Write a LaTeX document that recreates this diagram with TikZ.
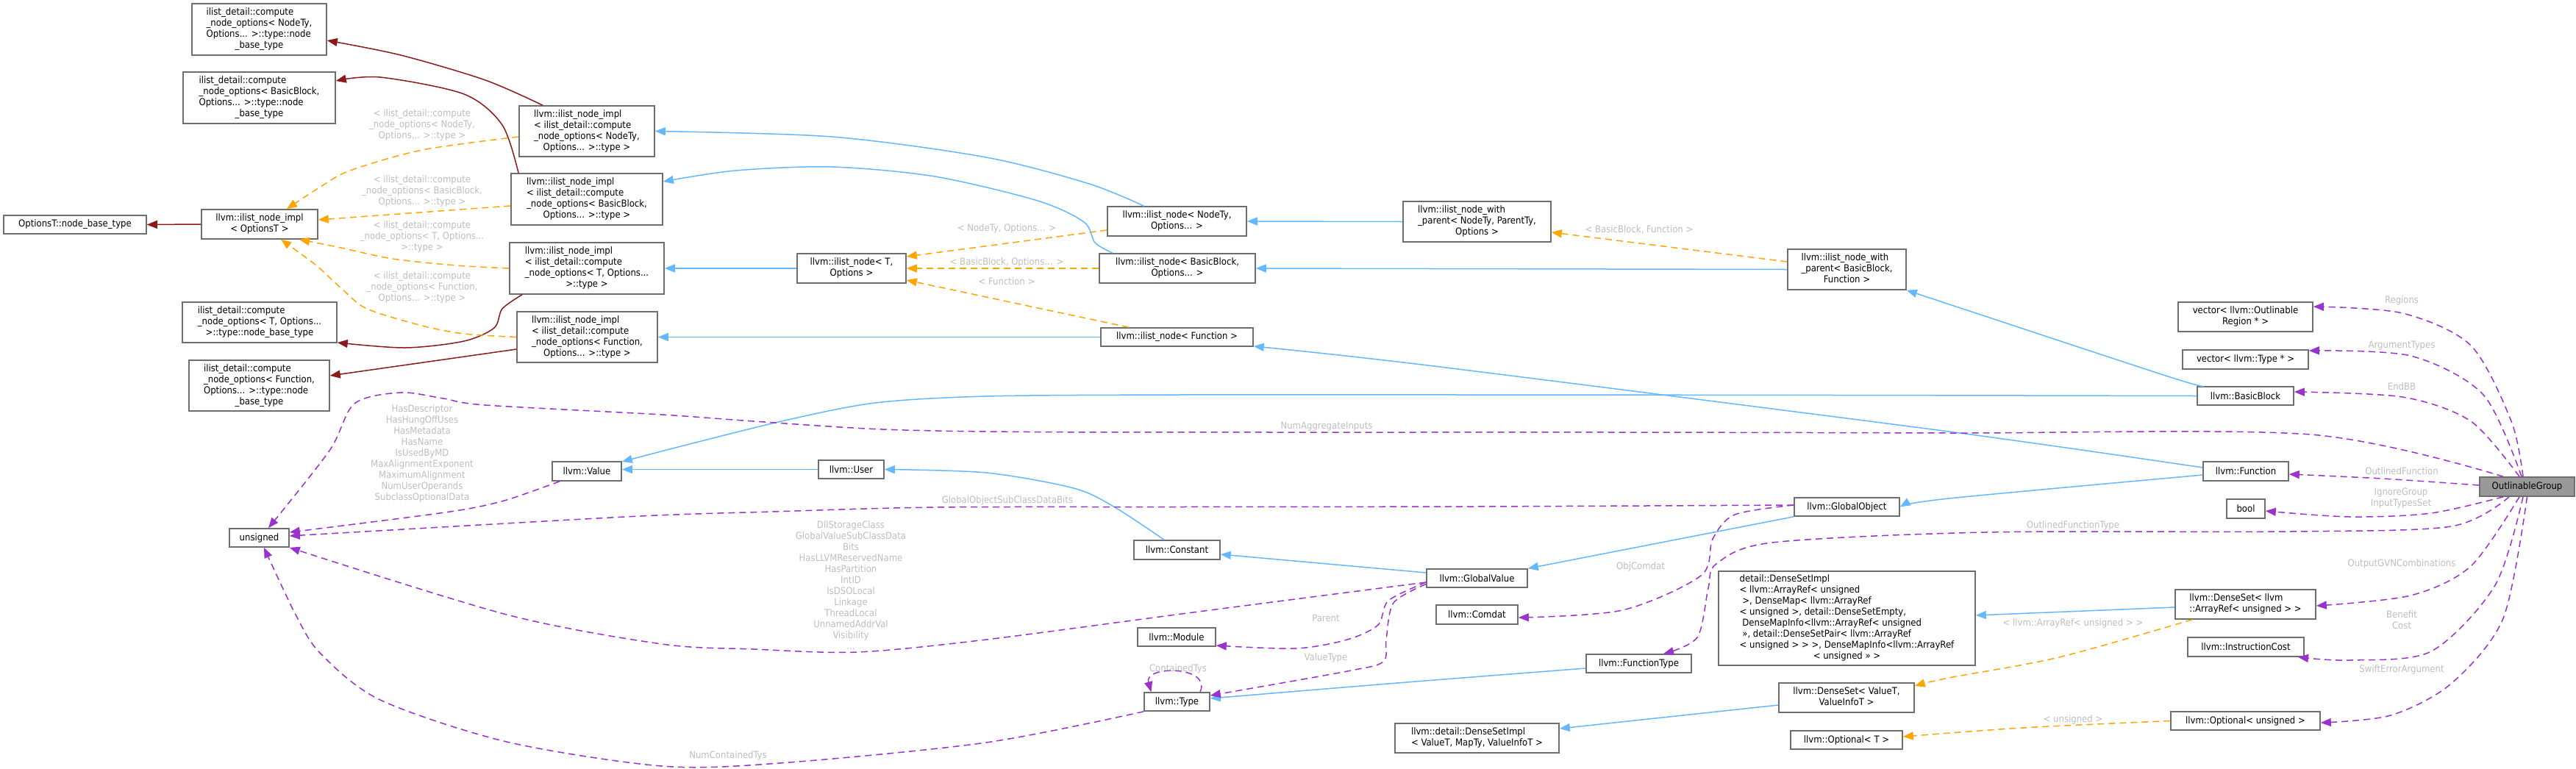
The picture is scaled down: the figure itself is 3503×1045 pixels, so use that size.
\documentclass[tikz,border=0pt]{standalone}
\usepackage{fontspec}
\IfFontExistsTF{DejaVu Sans Condensed}{\setmainfont{DejaVu Sans Condensed}}{\setmainfont{DejaVu Sans}[FakeStretch=0.88]}
\usetikzlibrary{arrows.meta}
\definecolor{dxblue}{HTML}{63B8FF}
\definecolor{dxred}{HTML}{8B1A1A}
\definecolor{dxorange}{HTML}{FFA500}
\definecolor{dxpurple}{HTML}{9A32CD}
\definecolor{dxlabel}{HTML}{BEBEBE}
\definecolor{dxborder}{HTML}{6E6E6E}
\definecolor{dxfill}{HTML}{999999}
\newcommand\dxl[2]{\begin{tabular}{@{}l@{}}#1\\\multicolumn{1}{@{}c@{}}{#2}\end{tabular}}
\tikzset{
  box/.style={draw=dxborder, fill=white, line width=1.6pt, inner sep=0pt, font=\fontsize{13}{15}\selectfont, text=black},
  lab/.style={font=\fontsize{13}{15}\selectfont, text=dxlabel, align=center, inner sep=0pt},
  tip/.style={-{Triangle[length=14pt,width=11pt]}},
  inh/.style={draw=dxblue, line width=1.5pt, tip},
  priv/.style={draw=dxred, line width=1.5pt, tip},
  tmpl/.style={draw=dxorange, line width=1.5pt, dash pattern=on 9pt off 6pt, tip},
  use/.style={draw=dxpurple, line width=1.5pt, dash pattern=on 9pt off 6pt, tip}
}
\begin{document}
\begin{tikzpicture}[x=1pt,y=-1pt]
\useasboundingbox[fill=white] (0,0) rectangle (3503,1045);
% ---------- nodes ----------
\node[box, minimum width=183pt, minimum height=70pt] (n1) at (352.5,40) {\dxl{ilist\_detail::compute\\\_node\_options< NodeTy,\\Options... >::type::node}{\_base\_type}};
\node[box, minimum width=207pt, minimum height=70pt] (n2) at (352.5,133) {\dxl{ilist\_detail::compute\\\_node\_options< BasicBlock,\\Options... >::type::node}{\_base\_type}};
\node[box, minimum width=194pt, minimum height=25pt] (optT) at (102,305.5) {OptionsT::node\_base\_type};
\node[box, minimum width=158pt, minimum height=40pt] (implOpt) at (353,305) {\dxl{llvm::ilist\_node\_impl}{< OptionsT >}};
\node[box, minimum width=210pt, minimum height=55pt] (n3) at (353,438.5) {\dxl{ilist\_detail::compute\\\_node\_options< T, Options...}{>::type::node\_base\_type}};
\node[box, minimum width=191pt, minimum height=69pt] (n4) at (352.5,524.5) {\dxl{ilist\_detail::compute\\\_node\_options< Function,\\Options... >::type::node}{\_base\_type}};
\node[box, minimum width=184pt, minimum height=69pt] (implNodeTy) at (798,178.5) {\dxl{llvm::ilist\_node\_impl\\< ilist\_detail::compute\\\_node\_options< NodeTy,}{Options... >::type >}};
\node[box, minimum width=206pt, minimum height=70pt] (implBB) at (798,271) {\dxl{llvm::ilist\_node\_impl\\< ilist\_detail::compute\\\_node\_options< BasicBlock,}{Options... >::type >}};
\node[box, minimum width=210pt, minimum height=70pt] (implT) at (798,365) {\dxl{llvm::ilist\_node\_impl\\< ilist\_detail::compute\\\_node\_options< T, Options...}{>::type >}};
\node[box, minimum width=191pt, minimum height=69pt] (implFn) at (798.5,458.5) {\dxl{llvm::ilist\_node\_impl\\< ilist\_detail::compute\\\_node\_options< Function,}{Options... >::type >}};
\node[box, minimum width=189pt, minimum height=40pt] (nodeNT) at (1600.5,301) {\dxl{llvm::ilist\_node< NodeTy,}{Options... >}};
\node[box, minimum width=148pt, minimum height=40pt] (nodeT) at (1158,365) {\dxl{llvm::ilist\_node< T,}{Options >}};
\node[box, minimum width=212pt, minimum height=40pt] (nodeBB) at (1601,365) {\dxl{llvm::ilist\_node< BasicBlock,}{Options... >}};
\node[box, minimum width=207pt, minimum height=25pt] (nodeFn) at (1600.5,458.5) {llvm::ilist\_node< Function >};
\node[box, minimum width=201pt, minimum height=55pt] (wpNT) at (2008.5,301.5) {\dxl{llvm::ilist\_node\_with\\\_parent< NodeTy, ParentTy,}{Options >}};
\node[box, minimum width=161pt, minimum height=55pt] (wpBB) at (2511.5,366.5) {\dxl{llvm::ilist\_node\_with\\\_parent< BasicBlock,}{Function >}};
\node[box, minimum width=183pt, minimum height=40pt] (vecReg) at (3053.5,431) {\dxl{vector< llvm::Outlinable}{Region * >}};
\node[box, minimum width=171pt, minimum height=26pt] (vecType) at (3053.5,489) {vector< llvm::Type * >};
\node[box, minimum width=131pt, minimum height=25pt] (BB) at (3053.5,538.5) {llvm::BasicBlock};
\node[box, minimum width=116pt, minimum height=26pt] (Fn) at (3054,641) {llvm::Function};
\node[box, minimum width=52pt, minimum height=26pt] (bool) at (3054,692) {bool};
\node[box, minimum width=191pt, minimum height=40pt] (dsAR) at (3053.5,822) {\dxl{llvm::DenseSet< llvm}{::ArrayRef< unsigned > >}};
\node[box, minimum width=158pt, minimum height=26pt] (ic) at (3054,880) {llvm::InstructionCost};
\node[box, minimum width=203pt, minimum height=25pt] (optU) at (3053.5,980.5) {llvm::Optional< unsigned >};
\node[box, fill=dxfill, draw=dxborder, minimum width=129pt, minimum height=26pt] (OG) at (3436.5,662) {OutlinableGroup};
\node[box, minimum width=143pt, minimum height=25pt] (GO) at (2511.5,689.5) {llvm::GlobalObject};
\node[box, minimum width=137pt, minimum height=25pt] (GV) at (2008.5,786.5) {llvm::GlobalValue};
\node[box, minimum width=111pt, minimum height=26pt] (Comdat) at (2008.5,836) {llvm::Comdat};
\node[box, minimum width=143pt, minimum height=25pt] (FT) at (2228.5,902.5) {llvm::FunctionType};
\node[box, minimum width=349pt, minimum height=128pt] (dsImpl) at (2511.5,841) {\dxl{detail::DenseSetImpl\\< llvm::ArrayRef< unsigned\\\ >, DenseMap< llvm::ArrayRef\\< unsigned >, detail::DenseSetEmpty,\\\ DenseMapInfo<llvm::ArrayRef< unsigned\\\ >>, detail::DenseSetPair< llvm::ArrayRef\\< unsigned > > >, DenseMapInfo<llvm::ArrayRef}{< unsigned >> >}};
\node[box, minimum width=184pt, minimum height=40pt] (dsVT) at (2511,949) {\dxl{llvm::DenseSet< ValueT,}{ValueInfoT >}};
\node[box, minimum width=223pt, minimum height=40pt] (dImplVT) at (2008.5,1004) {\dxl{llvm::detail::DenseSetImpl}{< ValueT, MapTy, ValueInfoT >}};
\node[box, minimum width=152pt, minimum height=25pt] (optT2) at (2511,1006.5) {llvm::Optional< T >};
\node[box, minimum width=89pt, minimum height=25pt] (User) at (1157.5,638.5) {llvm::User};
\node[box, minimum width=117pt, minimum height=26pt] (Const) at (1600.5,748) {llvm::Constant};
\node[box, minimum width=106pt, minimum height=25pt] (Module) at (1600,866.5) {llvm::Module};
\node[box, minimum width=89pt, minimum height=25pt] (Type) at (1600.5,954.5) {llvm::Type};
\node[box, minimum width=94pt, minimum height=26pt] (Value) at (798,641) {llvm::Value};
\node[box, minimum width=81pt, minimum height=25pt] (unsigned) at (352.5,731.5) {unsigned};
% ---------- labels ----------
\node[lab] (l6) at (574,170) {< ilist\_detail::compute\\\_node\_options< NodeTy,\\Options... >::type >};
\node[lab] (l7) at (574,260) {< ilist\_detail::compute\\\_node\_options< BasicBlock,\\Options... >::type >};
\node[lab] (l8) at (574,322) {< ilist\_detail::compute\\\_node\_options< T, Options...\\>::type >};
\node[lab] (l9) at (574,391) {< ilist\_detail::compute\\\_node\_options< Function,\\Options... >::type >};
\node[lab] (l27) at (1369,311) {< NodeTy, Options... >};
\node[lab] (l28) at (1369,357) {< BasicBlock, Options... >};
\node[lab] (l29) at (1369,383) {< Function >};
\node[lab] (l30) at (2229,312) {< BasicBlock, Function >};
\node[lab] (l31) at (2819,848) {< llvm::ArrayRef< unsigned > >};
\node[lab] (l32) at (2819,979) {< unsigned >};
\node[lab] (l33) at (3266,409) {Regions};
\node[lab] (l34) at (3266,470) {ArgumentTypes};
\node[lab] (l35) at (3266,526) {EndBB};
\node[lab] (l36) at (1804,580) {NumAggregateInputs};
\node[lab] (l37) at (574,617) {HasDescriptor\\HasHungOffUses\\HasMetadata\\HasName\\IsUsedByMD\\MaxAlignmentExponent\\MaximumAlignment\\NumUserOperands\\SubclassOptionalData};
\node[lab] (l38) at (1370,681) {GlobalObjectSubClassDataBits};
\node[lab] (l39) at (1157,796.5) {DllStorageClass\\GlobalValueSubClassData\\Bits\\HasLLVMReservedName\\HasPartition\\IntID\\IsDSOLocal\\Linkage\\ThreadLocal\\UnnamedAddrVal\\Visibility\\...};
\node[lab] (l40) at (990,1028) {NumContainedTys};
\node[lab] (l41) at (1602,910) {ContainedTys};
\node[lab] (l42) at (1803,841) {Parent};
\node[lab] (l43) at (1803,895) {ValueType};
\node[lab] (l44) at (2231,771) {ObjComdat};
\node[lab] (l45) at (2819,715) {OutlinedFunctionType};
\node[lab] (l46) at (3266,641) {OutlinedFunction};
\node[lab] (l47) at (3265,678) {IgnoreGroup\\InputTypesSet};
\node[lab] (l48) at (3266,767) {OutputGVNCombinations};
\node[lab] (l49) at (3266,843) {Benefit\\Cost};
\node[lab] (l50) at (3266,911) {SwiftErrorArgument};
% ---------- private (dark red) ----------
\draw[priv] plot[smooth] coordinates {([xshift=-60pt]implNodeTy.north) (660,109) (545,75) ([yshift=-15pt]n1.east)};
\draw[priv] plot[smooth] coordinates {([xshift=-93pt]implBB.north) (683,170) (631,128) (517,105) ([yshift=23pt]n2.east)};
\draw[priv] (implOpt.west) -- (optT.east);
\draw[priv] plot[smooth] coordinates {([xshift=-88pt]implT.south) (683,420) (672,446) (631,464) (551,473) ([yshift=-27.5pt]n3.east)};
\draw[priv] ([yshift=-16.5pt]implFn.west) -- ([yshift=13.5pt]n4.east);
% ---------- template (orange) ----------
\draw[tmpl] plot[smooth] coordinates {([yshift=-7.5pt]implNodeTy.west) (574,204) (476,232) (436,254) ([xshift=37pt]implOpt.north)};
\draw[tmpl] ([yshift=-9pt]implBB.west) -- ([yshift=6pt]implOpt.east);
\draw[tmpl] plot[smooth] coordinates {(implT.west) (620,361) (534,352) (459,336) ([xshift=54pt]implOpt.south)};
\draw[tmpl] plot[smooth] coordinates {(implFn.west) (631,454) (574,443) (499,420) (465,393) (430,361) ([xshift=29pt]implOpt.south)};
\draw[tmpl] ([yshift=-12pt]nodeNT.west) -- ([yshift=16pt]nodeT.east);
\draw[tmpl] (nodeBB.west) -- (nodeT.east);
\draw[tmpl] ([xshift=-65.5pt]nodeFn.north) -- ([yshift=-16pt]nodeT.east);
\draw[tmpl] ([yshift=10.5pt]wpBB.west) -- ([yshift=-14.5pt]wpNT.east);
\draw[tmpl] plot[smooth] coordinates {([xshift=-72.5pt]dsAR.south) (2800,894) (2650,922) ([yshift=16pt]dsVT.east)};
\draw[tmpl] plot[smooth] coordinates {(optU.west) (2750,990) ([yshift=4.5pt]optT2.east)};
% ---------- public inheritance (blue) ----------
\draw[inh] plot[smooth] coordinates {([xshift=-45pt]nodeNT.north) (1481,250) (1341,214) (1131,186) (implNodeTy.east)};
\draw[inh] plot[smooth] coordinates {([xshift=-88pt]nodeBB.north) (1489,330) (1474,302) (1411,273) (1271,240) (1131,227) (1000,232) ([yshift=24pt]implBB.east)};
\draw[inh] (nodeT.west) -- (implT.east);
\draw[inh] (nodeFn.west) -- (implFn.east);
\draw[inh] (wpNT.west) -- (nodeNT.east);
\draw[inh] (wpBB.west) -- (nodeBB.east);
\draw[inh] plot[smooth] coordinates {([xshift=-57pt]BB.north) (2945,511) (wpBB.south east)};
\draw[inh] plot[smooth] coordinates {(BB.west) (2500,537.5) (2000,537) (1600,537) (1341,539) (1190,548) (1067,572) (930,606) ([yshift=13pt]Value.east)};
\draw[inh] plot[smooth] coordinates {([yshift=5pt]Fn.west) (2650,587) (1950,498) ([yshift=-12.5pt]nodeFn.east)};
\draw[inh] plot[smooth] coordinates {([yshift=-5pt]Fn.west) (2650,678) (GO.east)};
\draw[inh] (User.west) -- ([yshift=2.5pt]Value.east);
\draw[inh] plot[smooth] coordinates {([xshift=-17.5pt]Const.north) (1516,690) (1460,664) (1341,643) (User.east)};
\draw[inh] ([yshift=7.5pt]GV.west) -- ([yshift=-6pt]Const.east);
\draw[inh] (GO.south west) -- (GV.north east);
\draw[inh] plot[smooth] coordinates {([yshift=-6.5pt]FT.west) (1900,929) ([yshift=4.5pt]Type.east)};
\draw[inh] ([yshift=-10pt]dsVT.west) -- ([yshift=13pt]dImplVT.east);
\draw[inh] ([yshift=-4pt]dsAR.west) -- ([yshift=4pt]dsImpl.east);
% ---------- usage (purple) ----------
\draw[use] plot[smooth] coordinates {([xshift=-5.5pt]OG.north) (3415,573) (3360,470) (3267,426) ([yshift=14pt]vecReg.east)};
\draw[use] plot[smooth] coordinates {([xshift=-7.5pt]OG.north) (3377,537) (3278,484) ([yshift=12pt]vecType.east)};
\draw[use] plot[smooth] coordinates {([xshift=-10.5pt]OG.north) (3360,573) (3267,540) ([yshift=5.5pt]BB.east)};
\draw[use] plot[smooth] coordinates {([xshift=-32.5pt]OG.north) (3142,591) (2650,589) (2200,588) (1750,588) (1400,587.5) (1200,584) (1025,573) (900,564) (660,551) (603,542) (545,534) (482,549) (448,613) ([xshift=12.5pt]unsigned.north)};
\draw[use] plot[smooth] coordinates {([xshift=-37pt]Value.south) (689,680) (631,693) (545,705) ([yshift=7.5pt]unsigned.east)};
\draw[use] plot[smooth] coordinates {([yshift=2.5pt]GO.west) (2000,689) (1600,689.5) (1271,690) (1050,696) (850,703) ([yshift=2.5pt]unsigned.east)};
\draw[use] plot[smooth] coordinates {([yshift=-5.5pt]GV.west) (1622,833) (1341,870) (1166,887) (1025,883) (900,876) (689,836) (unsigned.south east)};
\draw[use] plot[smooth] coordinates {(Type.south west) (1341,1010) (1060,1038) (900,1042) (689,1009) (517,952) (436,889) (402,836) ([xshift=6.5pt]unsigned.south)};
\draw[use] ([xshift=31.5pt]Type.north) .. controls (1648,905) and (1555,905) .. ([xshift=-35pt]Type.north);
\draw[use] plot[smooth] coordinates {([yshift=-5.5pt]GV.west) (1888,817) (1874,850) (1832,870) (1762,882) ([yshift=-11.5pt]Module.east)};
\draw[use] plot[smooth] coordinates {([yshift=-8pt]GV.west) (1895,820) (1885,870) (1881,900) (1832,913) ([yshift=8.5pt]Type.east)};
\draw[use] plot[smooth] coordinates {([yshift=2.5pt]GO.west) (2359,700) (2329,733) (2313,783) (2206,830) ([yshift=-4pt]Comdat.east)};
\draw[use] plot[smooth] coordinates {([xshift=-24.5pt]OG.south) (3333,716) (3114,723) (2700,724) (2410,738) (2334,767) (2323,800) (2308,867) ([xshift=33.5pt]FT.north)};
\draw[use] plot[smooth] coordinates {([yshift=2pt]OG.west) (3240,651) ([yshift=-4pt]Fn.east)};
\draw[use] plot[smooth] coordinates {([xshift=-32.5pt]OG.south) (3306,698) (3196,703) ([yshift=-3pt]bool.east)};
\draw[use] plot[smooth] coordinates {([xshift=-10.5pt]OG.south) (3360,770) (3278,810) ([yshift=-2pt]dsAR.east)};
\draw[use] plot[smooth] coordinates {([xshift=-5.5pt]OG.south) (3393,796) (3306,886) (3196,898) ([xshift=71pt]ic.south)};
\draw[use] plot[smooth] coordinates {(OG.south) (3404,841) (3333,930) (3251,973) ([yshift=-2.5pt]optU.east)};
\end{tikzpicture}
\end{document}
